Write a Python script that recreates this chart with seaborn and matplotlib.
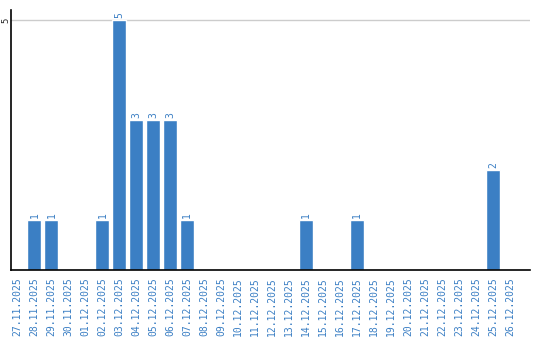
import matplotlib
matplotlib.use("Agg")
import matplotlib.pyplot as plt
import seaborn as sns
import pandas as pd

dates = ["27.11.2025", "28.11.2025", "29.11.2025", "30.11.2025", "01.12.2025",
         "02.12.2025", "03.12.2025", "04.12.2025", "05.12.2025", "06.12.2025",
         "07.12.2025", "08.12.2025", "09.12.2025", "10.12.2025", "11.12.2025",
         "12.12.2025", "13.12.2025", "14.12.2025", "15.12.2025", "16.12.2025",
         "17.12.2025", "18.12.2025", "19.12.2025", "20.12.2025", "21.12.2025",
         "22.12.2025", "23.12.2025", "24.12.2025", "25.12.2025", "26.12.2025"]
counts = [0, 1, 1, 0, 0, 1, 5, 3, 3, 3, 1, 0, 0, 0, 0,
          0, 0, 1, 0, 0, 1, 0, 0, 0, 0, 0, 0, 0, 2, 0]

sns.set_style("white")
plt.rcParams['font.family'] = ['DejaVu Sans Mono', 'DejaVu Sans']

df = pd.DataFrame({"date": dates, "count": counts})
bar_color = "#3b7fc4"

fig = plt.figure(figsize=(5.4, 3.4), dpi=100)
ax = fig.add_axes([11/540, 70/340, 519/540, 260/340])
sns.barplot(data=df, x="date", y="count", color=bar_color, width=0.82,
            saturation=1, ax=ax)

ax.set_ylim(0, 5.2)
ax.set_xlim(-0.38, 30.18)
ax.set_yticks([5])
ax.set_yticklabels(["5"], rotation=90, va="center", ha="center", fontsize=6.5)
ax.yaxis.grid(True, color="#cccccc", linewidth=1)
ax.set_axisbelow(True)
ax.tick_params(axis="y", length=0, pad=3.5)
ax.tick_params(axis="x", length=0, labelrotation=90, labelsize=7,
               labelcolor=bar_color, pad=5)
ax.set_xlabel("")
ax.set_ylabel("")

for s in ["top", "right"]:
    ax.spines[s].set_visible(False)
for s in ["left", "bottom"]:
    ax.spines[s].set_color("black")
    ax.spines[s].set_linewidth(1.2)

for i, v in enumerate(counts):
    if v > 0:
        ax.text(i, v + 0.05, str(v), rotation=90, ha="center", va="bottom",
                fontsize=7, color=bar_color)

fig.savefig("out.png", dpi=100)
